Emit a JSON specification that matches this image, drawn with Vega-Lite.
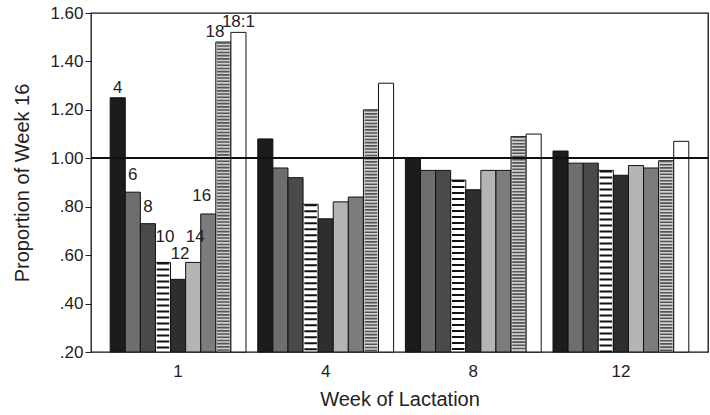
{
  "$schema": "https://vega.github.io/schema/vega-lite/v6.json",
  "width": 617,
  "height": 339,
  "autosize": {"type": "none"},
  "padding": {"left": 91, "top": 13, "right": 2, "bottom": 63},
  "background": "white",
  "config": {
    "font": "Liberation Sans",
    "view": {"stroke": "#111", "strokeWidth": 1.3},
    "axis": {
      "grid": false,
      "domain": false,
      "labelColor": "#222",
      "titleColor": "#222",
      "labelFont": "Liberation Sans",
      "titleFont": "Liberation Sans",
      "titleFontWeight": "normal",
      "labelFontSize": 17,
      "titleFontSize": 20
    }
  },
  "data": {
    "values": [
      {"week": "1", "group": "4", "value": 1.25},
      {"week": "1", "group": "6", "value": 0.86},
      {"week": "1", "group": "8", "value": 0.73},
      {"week": "1", "group": "10", "value": 0.57},
      {"week": "1", "group": "12", "value": 0.50},
      {"week": "1", "group": "14", "value": 0.57},
      {"week": "1", "group": "16", "value": 0.77},
      {"week": "1", "group": "18", "value": 1.48},
      {"week": "1", "group": "18:1", "value": 1.52},
      {"week": "4", "group": "4", "value": 1.08},
      {"week": "4", "group": "6", "value": 0.96},
      {"week": "4", "group": "8", "value": 0.92},
      {"week": "4", "group": "10", "value": 0.81},
      {"week": "4", "group": "12", "value": 0.75},
      {"week": "4", "group": "14", "value": 0.82},
      {"week": "4", "group": "16", "value": 0.84},
      {"week": "4", "group": "18", "value": 1.20},
      {"week": "4", "group": "18:1", "value": 1.31},
      {"week": "8", "group": "4", "value": 1.00},
      {"week": "8", "group": "6", "value": 0.95},
      {"week": "8", "group": "8", "value": 0.95},
      {"week": "8", "group": "10", "value": 0.91},
      {"week": "8", "group": "12", "value": 0.87},
      {"week": "8", "group": "14", "value": 0.95},
      {"week": "8", "group": "16", "value": 0.95},
      {"week": "8", "group": "18", "value": 1.09},
      {"week": "8", "group": "18:1", "value": 1.10},
      {"week": "12", "group": "4", "value": 1.03},
      {"week": "12", "group": "6", "value": 0.98},
      {"week": "12", "group": "8", "value": 0.98},
      {"week": "12", "group": "10", "value": 0.95},
      {"week": "12", "group": "12", "value": 0.93},
      {"week": "12", "group": "14", "value": 0.97},
      {"week": "12", "group": "16", "value": 0.96},
      {"week": "12", "group": "18", "value": 0.99},
      {"week": "12", "group": "18:1", "value": 1.07}
    ]
  },
  "encoding": {
    "x": {
      "field": "week",
      "type": "nominal",
      "sort": ["1", "4", "8", "12"],
      "scale": {"paddingInner": 0.08, "paddingOuter": 0.13},
      "axis": {
        "title": "Week of Lactation",
        "labelAngle": 0,
        "ticks": false,
        "labelPadding": 11,
        "titlePadding": 10
      }
    },
    "xOffset": {
      "field": "group",
      "type": "nominal",
      "sort": ["4", "6", "8", "10", "12", "14", "16", "18", "18:1"],
      "scale": {"paddingInner": 0, "paddingOuter": 0}
    }
  },
  "layer": [
    {
      "mark": {"type": "bar", "stroke": "#111", "strokeWidth": 1},
      "encoding": {
        "y": {
          "field": "value",
          "type": "quantitative",
          "scale": {"domain": [0.2, 1.6], "nice": false, "zero": false},
          "axis": {
            "title": "Proportion of Week 16",
            "values": [0.2, 0.4, 0.6, 0.8, 1.0, 1.2, 1.4, 1.6],
            "format": ".2f",
            "labelExpr": "datum.value < 1 ? slice(datum.label, 1) : datum.label",
            "tickSize": 6,
            "tickColor": "#222",
            "labelPadding": 2,
            "titlePadding": 17
          }
        },
        "y2": {"datum": 0.2},
        "fill": {
          "field": "group",
          "type": "nominal",
          "legend": null,
          "scale": {
            "domain": ["4", "6", "8", "10", "12", "14", "16", "18", "18:1"],
            "range": ["#1c1c1c", "#6e6e6e", "#4a4a4a", "#ffffff", "#2e2e2e", "#b4b4b4", "#7c7c7c", "#d0d0d0", "#ffffff"]
          }
        }
      }
    },
    {
      "transform": [{"filter": "datum.group == '10' || datum.group == '18'"}],
      "mark": {"type": "rule", "strokeWidth": 12.5, "strokeCap": "butt"},
      "encoding": {
        "y": {"field": "value", "type": "quantitative"},
        "y2": {"datum": 0.2},
        "color": {
          "field": "group",
          "type": "nominal",
          "legend": null,
          "scale": {"domain": ["10", "18"], "range": ["#111111", "#555555"]}
        },
        "strokeDash": {
          "field": "group",
          "type": "nominal",
          "legend": null,
          "scale": {"domain": ["10", "18"], "range": [[2, 4], [1.6, 1.6]]}
        }
      }
    },
    {
      "mark": {"type": "rule", "color": "#111", "strokeWidth": 1.2},
      "encoding": {
        "y": {"datum": 1.0},
        "x": null,
        "xOffset": null
      }
    },
    {
      "transform": [{"filter": "datum.week == '1' && (datum.group == '4' || datum.group == '18:1')"}],
      "mark": {"type": "text", "baseline": "alphabetic", "dy": -5, "fontSize": 17, "color": "#222"},
      "encoding": {"y": {"field": "value", "type": "quantitative"}, "text": {"field": "group"}}
    },
    {
      "transform": [{"filter": "datum.week == '1' && (datum.group == '6' || datum.group == '8')"}],
      "mark": {"type": "text", "baseline": "alphabetic", "dy": -12, "fontSize": 17, "color": "#222"},
      "encoding": {"y": {"field": "value", "type": "quantitative"}, "text": {"field": "group"}}
    },
    {
      "transform": [{"filter": "datum.week == '1' && (datum.group == '10' || datum.group == '12' || datum.group == '14')"}],
      "mark": {"type": "text", "baseline": "alphabetic", "dx": 2, "dy": -20, "fontSize": 17, "color": "#222"},
      "encoding": {"y": {"field": "value", "type": "quantitative"}, "text": {"field": "group"}}
    },
    {
      "transform": [{"filter": "datum.week == '1' && datum.group == '16'"}],
      "mark": {"type": "text", "baseline": "alphabetic", "align": "right", "dx": 3, "dy": -13, "fontSize": 17, "color": "#222"},
      "encoding": {"y": {"field": "value", "type": "quantitative"}, "text": {"field": "group"}}
    },
    {
      "transform": [{"filter": "datum.week == '1' && datum.group == '18'"}],
      "mark": {"type": "text", "baseline": "alphabetic", "align": "right", "dx": 1, "dy": -5, "fontSize": 17, "color": "#222"},
      "encoding": {"y": {"field": "value", "type": "quantitative"}, "text": {"field": "group"}}
    }
  ]
}
